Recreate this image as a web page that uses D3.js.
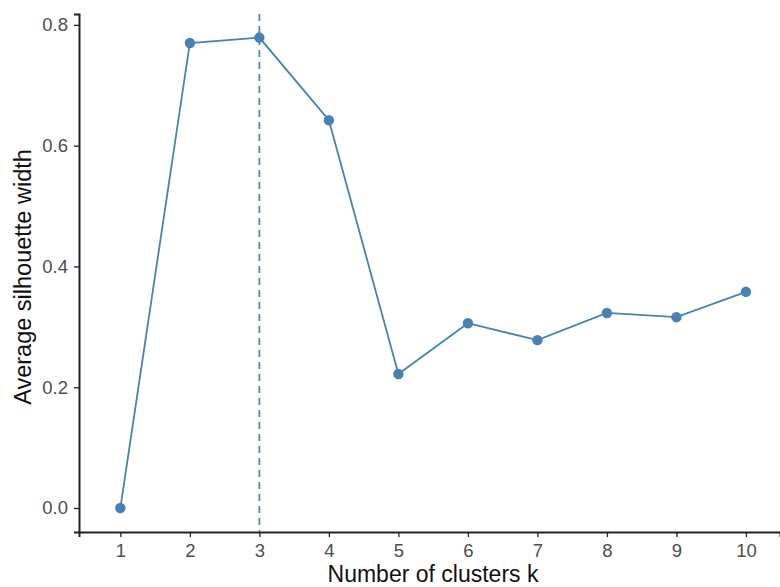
<!DOCTYPE html>
<html lang="en">
<head>
<meta charset="UTF-8">
<title>Optimal number of clusters</title>
<script src="https://d3js.org/d3.v7.min.js"></script>
<style>
  body { margin: 0; background: #fff; }
  text { font-family: "Liberation Sans", Arial, sans-serif; }
  .axis path, .axis line { stroke: #222; }
</style>
</head>
<body>
<svg width="780" height="587"></svg>
<script>
// data
var clusters = [1, 2, 3, 4, 5, 6, 7, 8, 9, 10];
var silhouette = [0, 0.770, 0.779, 0.642, 0.222, 0.306, 0.278, 0.323, 0.316, 0.358];
var yTicks = [0, 0.2, 0.4, 0.6, 0.8];
var bestK = 3;

var svg = d3.select("svg");
// plot panel edges (avoid "top", it's window.top)
var padL = 79, padR = 780, padT = 14, padB = 532;

var x = d3.scaleLinear().domain([0.405, 10.49]).range([padL, padR]);
var y = d3.scaleLinear().domain([-0.0397, 0.818]).range([padB, padT]);

function styleAxis(g) {
    g.select(".domain").attr("stroke-width", 2);
    g.selectAll(".tick line").attr("stroke-width", 1.3);
    g.selectAll(".tick text")
        .attr("fill", "#4d4d4d")
        .style("font-size", "18.5px")
        .style("font-family", "'Liberation Sans', Arial, sans-serif");
}

// axes
var xAxis = svg.append("g")
    .attr("class", "axis")
    .attr("transform", "translate(0," + padB + ")")
    .call(d3.axisBottom(x).tickValues(clusters).tickFormat(d3.format("d")).tickSizeOuter(0).tickSize(5).tickPadding(7));
styleAxis(xAxis);

var yAxis = svg.append("g")
    .attr("class", "axis")
    .attr("transform", "translate(" + padL + ",0)")
    .call(d3.axisLeft(y).tickValues(yTicks).tickFormat(d3.format(".1f")).tickSizeOuter(0).tickSize(5).tickPadding(6));
styleAxis(yAxis);

// vertical dashed line at best k
svg.append("line")
    .attr("x1", x(bestK)).attr("x2", x(bestK))
    .attr("y1", padT).attr("y2", padB)
    .attr("stroke", "#4682b4")
    .attr("stroke-width", 1.7)
    .attr("stroke-dasharray", "7,5");

// line + points
var pts = clusters.map(function(k, i) { return [k, silhouette[i]]; });
svg.append("path")
    .datum(pts)
    .attr("fill", "none")
    .attr("stroke", "#4682b4")
    .attr("stroke-width", 1.8)
    .attr("d", d3.line().x(function(d) { return x(d[0]); }).y(function(d) { return y(d[1]); }));

svg.selectAll("circle.pt")
    .data(pts)
    .enter().append("circle")
    .attr("class", "pt")
    .attr("cx", function(d) { return x(d[0]); })
    .attr("cy", function(d) { return y(d[1]); })
    .attr("r", 5.2)
    .attr("fill", "#4682b4");

// axis titles
svg.append("text")
    .attr("x", 433)
    .attr("y", 582)
    .attr("text-anchor", "middle")
    .attr("font-size", 23)
    .attr("fill", "#111")
    .text("Number of clusters k");

svg.append("text")
    .attr("transform", "translate(31,277) rotate(-90)")
    .attr("text-anchor", "middle")
    .attr("font-size", 23.5)
    .attr("fill", "#111")
    .text("Average silhouette width");
</script>
</body>
</html>
